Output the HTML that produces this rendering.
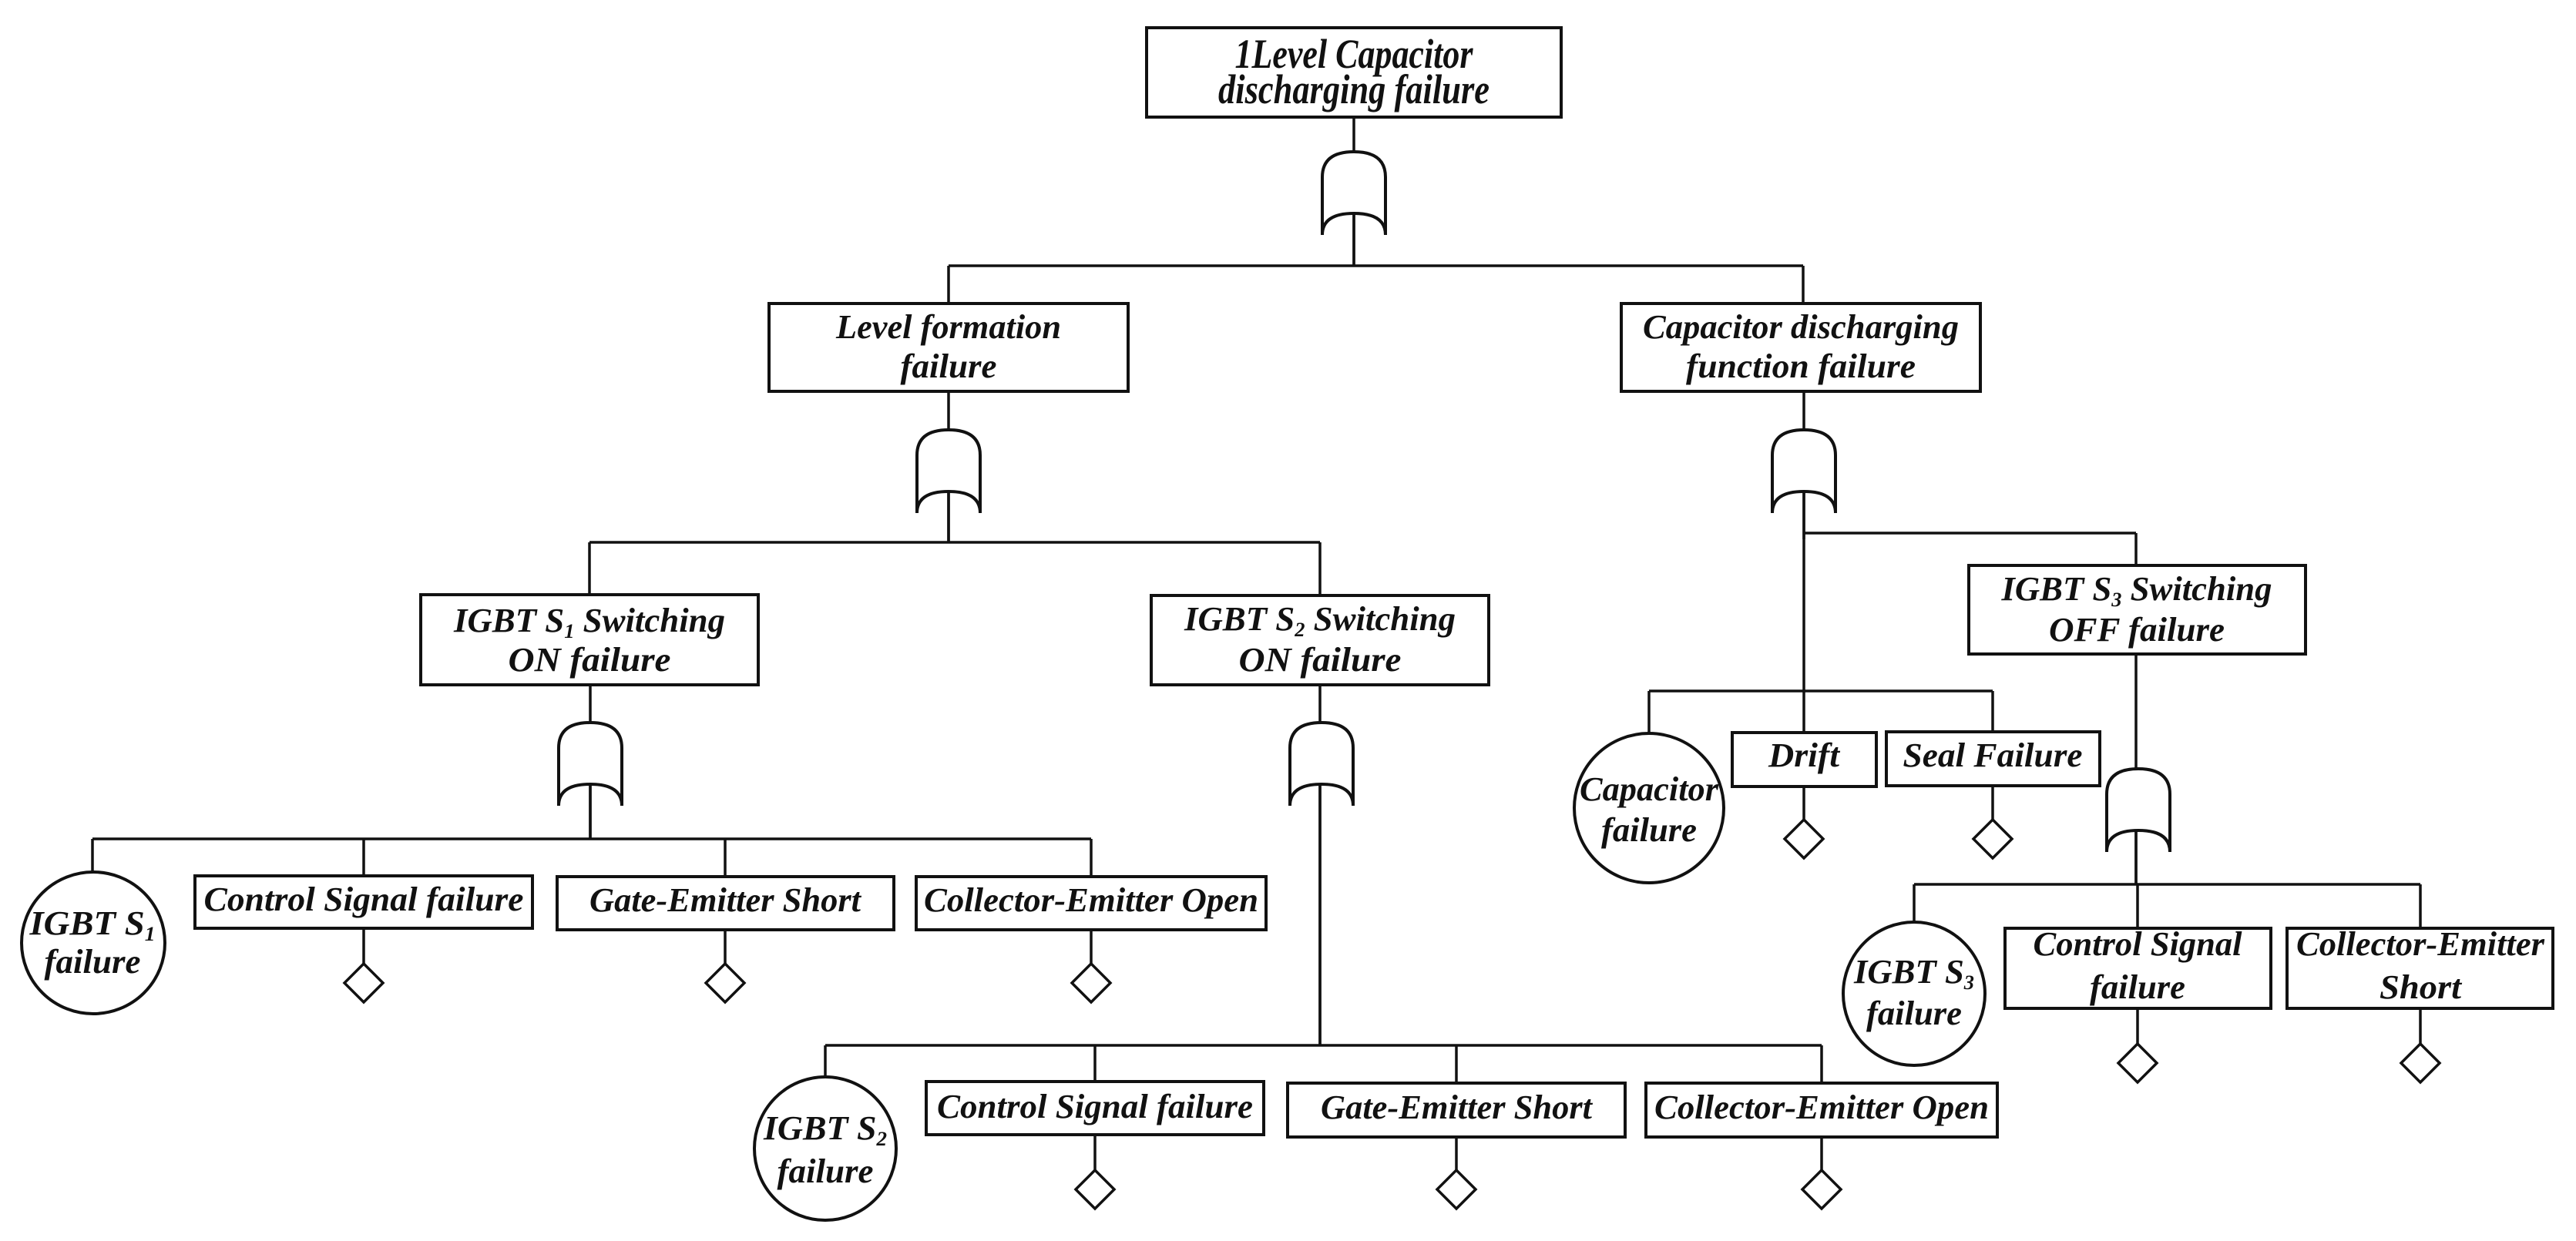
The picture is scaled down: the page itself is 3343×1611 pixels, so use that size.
<!DOCTYPE html>
<html><head><meta charset="utf-8"><style>
html,body{margin:0;padding:0;background:#fff;}
svg{display:block;}
text{font-family:"Liberation Serif",serif;font-weight:bold;font-style:italic;fill:#111;text-anchor:middle;}
</style></head><body>
<svg width="3343" height="1611" viewBox="0 0 3343 1611" xmlns="http://www.w3.org/2000/svg">
<defs>
<g id="gate">
<path d="M-41,54 L-41,-21 Q-41,-54 0,-54 Q41,-54 41,-21 L41,54 Q41,26 0,26 Q-41,26 -41,54 Z" fill="#fff" stroke="#111" stroke-width="4"/>
</g>
<g id="dia"><path d="M0,0 L25,25 L0,50 L-25,25 Z" fill="#fff" stroke="#111" stroke-width="3.5"/></g>
</defs>
<g stroke="#111" stroke-width="3.5" fill="none">
<line x1="1757" y1="152" x2="1757" y2="345"/>
<line x1="1231" y1="345" x2="2340" y2="345"/>
<line x1="1231" y1="345" x2="1231" y2="394"/>
<line x1="2340" y1="345" x2="2340" y2="394"/>
<line x1="1231" y1="508" x2="1231" y2="704"/>
<line x1="765" y1="704" x2="1713" y2="704"/>
<line x1="765" y1="704" x2="765" y2="772"/>
<line x1="1713" y1="704" x2="1713" y2="773"/>
<line x1="766" y1="889" x2="766" y2="1089"/>
<line x1="120" y1="1089" x2="1416" y2="1089"/>
<line x1="120" y1="1089" x2="120" y2="1132"/>
<line x1="472" y1="1089" x2="472" y2="1137"/>
<line x1="941" y1="1089" x2="941" y2="1137"/>
<line x1="1416" y1="1089" x2="1416" y2="1137"/>
<line x1="472" y1="1205" x2="472" y2="1252"/>
<line x1="941" y1="1207" x2="941" y2="1252"/>
<line x1="1416" y1="1207" x2="1416" y2="1252"/>
<line x1="1713" y1="889" x2="1713" y2="1357"/>
<line x1="1071" y1="1357" x2="2364" y2="1357"/>
<line x1="1071" y1="1357" x2="1071" y2="1398"/>
<line x1="1421" y1="1357" x2="1421" y2="1403"/>
<line x1="1890" y1="1357" x2="1890" y2="1405"/>
<line x1="2364" y1="1357" x2="2364" y2="1405"/>
<line x1="1421" y1="1473" x2="1421" y2="1519"/>
<line x1="1890" y1="1476" x2="1890" y2="1519"/>
<line x1="2364" y1="1476" x2="2364" y2="1519"/>
<line x1="2341" y1="508" x2="2341" y2="951"/>
<line x1="2341" y1="692" x2="2772" y2="692"/>
<line x1="2772" y1="692" x2="2772" y2="734"/>
<line x1="2140" y1="897" x2="2586" y2="897"/>
<line x1="2140" y1="897" x2="2140" y2="952"/>
<line x1="2586" y1="897" x2="2586" y2="951"/>
<line x1="2341" y1="1021" x2="2341" y2="1064"/>
<line x1="2586" y1="1021" x2="2586" y2="1064"/>
<line x1="2772" y1="849" x2="2772" y2="1148"/>
<line x1="2484" y1="1148" x2="3141" y2="1148"/>
<line x1="2484" y1="1148" x2="2484" y2="1197"/>
<line x1="2774" y1="1148" x2="2774" y2="1205"/>
<line x1="3141" y1="1148" x2="3141" y2="1205"/>
<line x1="2774" y1="1309" x2="2774" y2="1355"/>
<line x1="3141" y1="1309" x2="3141" y2="1355"/>
</g>
<use href="#gate" x="1757" y="251"/>
<use href="#gate" x="1231" y="612"/>
<use href="#gate" x="2341" y="612"/>
<use href="#gate" x="766" y="992"/>
<use href="#gate" x="1715" y="992"/>
<use href="#gate" x="2775" y="1052"/>
<g stroke="#111" stroke-width="3.5">
<line x1="1757" y1="277" x2="1757" y2="345"/>
<line x1="1231" y1="638" x2="1231" y2="704"/>
<line x1="2341" y1="638" x2="2341" y2="700"/>
<line x1="766" y1="1018" x2="766" y2="1089"/>
<line x1="1713" y1="1018" x2="1713" y2="1357"/>
<line x1="2772" y1="1078" x2="2772" y2="1148"/>
</g>
<use href="#dia" x="472" y="1251"/>
<use href="#dia" x="941" y="1251"/>
<use href="#dia" x="1416" y="1251"/>
<use href="#dia" x="1421" y="1519"/>
<use href="#dia" x="1890" y="1519"/>
<use href="#dia" x="2364" y="1519"/>
<use href="#dia" x="2341" y="1064"/>
<use href="#dia" x="2586" y="1064"/>
<use href="#dia" x="2774" y="1355"/>
<use href="#dia" x="3141" y="1355"/>
<g fill="#fff" stroke="#111" stroke-width="4">
<rect x="1488" y="36" width="538" height="116"/>
<rect x="998" y="394" width="466" height="114"/>
<rect x="2104" y="394" width="466" height="114"/>
<rect x="546" y="772" width="438" height="117"/>
<rect x="1494" y="773" width="438" height="116"/>
<rect x="2555" y="734" width="437" height="115"/>
<rect x="253" y="1137" width="438" height="68"/>
<rect x="723" y="1138" width="437" height="69"/>
<rect x="1189" y="1138" width="454" height="69"/>
<rect x="1202" y="1404" width="438" height="69"/>
<rect x="1671" y="1406" width="438" height="70"/>
<rect x="2136" y="1406" width="456" height="70"/>
<rect x="2248" y="951" width="187" height="70"/>
<rect x="2448" y="950" width="277" height="70"/>
<rect x="2602" y="1205" width="345" height="104"/>
<rect x="2968" y="1205" width="345" height="104"/>
<ellipse cx="121" cy="1224" rx="93" ry="92"/>
<ellipse cx="1071" cy="1491" rx="92" ry="93"/>
<ellipse cx="2140" cy="1049" rx="97" ry="97"/>
<ellipse cx="2484" cy="1290" rx="92" ry="93"/>
</g>
<g font-size="44">
<text x="1757" y="88" font-size="54" textLength="309" lengthAdjust="spacingAndGlyphs">1Level Capacitor</text>
<text x="1757" y="134" font-size="54" textLength="352" lengthAdjust="spacingAndGlyphs">discharging failure</text>
<text x="1231" y="439" textLength="292" lengthAdjust="spacingAndGlyphs">Level formation</text>
<text x="1231" y="490" textLength="125" lengthAdjust="spacingAndGlyphs">failure</text>
<text x="2337" y="439" textLength="410" lengthAdjust="spacingAndGlyphs">Capacitor discharging</text>
<text x="2337" y="490" textLength="298" lengthAdjust="spacingAndGlyphs">function failure</text>
<text x="765" y="820" textLength="352" lengthAdjust="spacingAndGlyphs">IGBT S<tspan font-size="26" dy="8">1</tspan><tspan dy="-8"> Switching</tspan></text>
<text x="765" y="871" textLength="211" lengthAdjust="spacingAndGlyphs">ON  failure</text>
<text x="1713" y="818" textLength="352" lengthAdjust="spacingAndGlyphs">IGBT S<tspan font-size="26" dy="8">2</tspan><tspan dy="-8"> Switching</tspan></text>
<text x="1713" y="871" textLength="211" lengthAdjust="spacingAndGlyphs">ON  failure</text>
<text x="2773" y="779" textLength="351" lengthAdjust="spacingAndGlyphs">IGBT S<tspan font-size="26" dy="8">3</tspan><tspan dy="-8"> Switching</tspan></text>
<text x="2773" y="832" textLength="228" lengthAdjust="spacingAndGlyphs">OFF failure</text>
<text x="472" y="1182" textLength="415" lengthAdjust="spacingAndGlyphs">Control Signal failure</text>
<text x="941" y="1183" textLength="352" lengthAdjust="spacingAndGlyphs">Gate-Emitter Short</text>
<text x="1416" y="1183" textLength="434" lengthAdjust="spacingAndGlyphs">Collector-Emitter Open</text>
<text x="1421" y="1451" textLength="410" lengthAdjust="spacingAndGlyphs">Control Signal failure</text>
<text x="1890" y="1452" textLength="352" lengthAdjust="spacingAndGlyphs">Gate-Emitter Short</text>
<text x="2364" y="1452" textLength="434" lengthAdjust="spacingAndGlyphs">Collector-Emitter Open</text>
<text x="2341" y="995" textLength="92" lengthAdjust="spacingAndGlyphs">Drift</text>
<text x="2586" y="995" textLength="233" lengthAdjust="spacingAndGlyphs">Seal Failure</text>
<text x="2774" y="1240" textLength="271" lengthAdjust="spacingAndGlyphs">Control Signal</text>
<text x="2774" y="1296" textLength="124" lengthAdjust="spacingAndGlyphs">failure</text>
<text x="3141" y="1240" textLength="322" lengthAdjust="spacingAndGlyphs">Collector-Emitter</text>
<text x="3141" y="1296" textLength="106" lengthAdjust="spacingAndGlyphs">Short</text>
<text x="120" y="1213" textLength="163" lengthAdjust="spacingAndGlyphs">IGBT S<tspan font-size="26" dy="8">1</tspan></text>
<text x="120" y="1263" textLength="125" lengthAdjust="spacingAndGlyphs">failure</text>
<text x="1071" y="1479" textLength="160" lengthAdjust="spacingAndGlyphs">IGBT S<tspan font-size="26" dy="8">2</tspan></text>
<text x="1071" y="1535" textLength="125" lengthAdjust="spacingAndGlyphs">failure</text>
<text x="2140" y="1039" textLength="180" lengthAdjust="spacingAndGlyphs">Capacitor</text>
<text x="2140" y="1092" textLength="124" lengthAdjust="spacingAndGlyphs">failure</text>
<text x="2484" y="1276" textLength="156" lengthAdjust="spacingAndGlyphs">IGBT S<tspan font-size="26" dy="8">3</tspan></text>
<text x="2484" y="1330" textLength="124" lengthAdjust="spacingAndGlyphs">failure</text>
</g>
</svg>
</body></html>
